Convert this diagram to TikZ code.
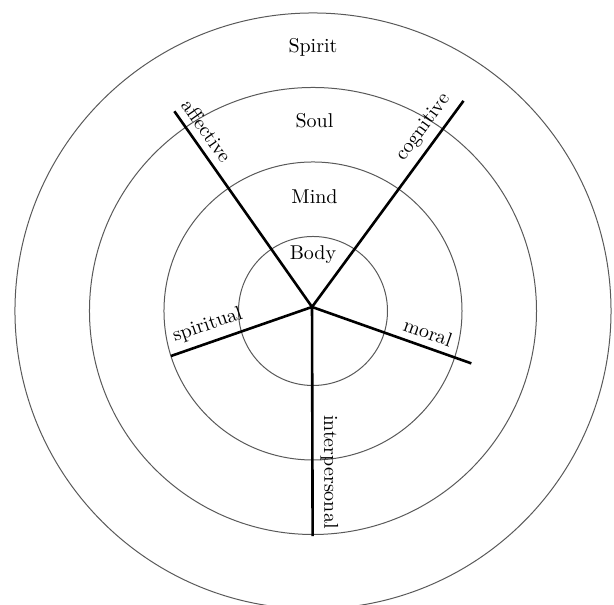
\documentclass[tikz,border=0pt]{standalone}
\usepackage{tikz}

\begin{document}
\begin{tikzpicture}[scale=1.309,
        ring/.style={draw=black!65,line width=0.5pt},
        spoke/.style={line width=1.3pt},
        tag/.style={sloped,above}]
            \useasboundingbox (-4.201,-3.946) rectangle (4.040,4.174);
            \coordinate (O) at (0,0);
            \coordinate (H) at (-0.013,0.054);
            \coordinate (A) at (-1.86,2.68);
            \coordinate (C) at (2.02,2.82);
            \coordinate (S) at (-1.906,-0.604);
            \coordinate (M) at (2.125,-0.703);
            \coordinate (I) at (-0.005,-3.02);

            \foreach \r in {1,2,3,4}
                \draw[ring] (O) circle (\r);

            \node (spirit) at (0,3.54) {Spirit};
            \node (soul) at (0.02,2.56) {Soul};
            \node (mind) at (0.02,1.54) {Mind};
            \node (body) at (0,0.75) {Body};

            \draw[spoke] (H) -- (A) node[tag,pos=0.855] (aff) {affective};
            \draw[spoke] (H) -- (C) node[tag,pos=0.823] (cog) {cognitive};
            \draw[spoke] (H) -- (S) node[tag,pos=0.70] (spi) {spiritual};
            \draw[spoke] (H) -- (M) node[tag,pos=0.697] (mor) {moral};
            \draw[spoke] (H) -- (I) node[tag,pos=0.72] (inter) {interpersonal};
        \end{tikzpicture}
\end{document}
